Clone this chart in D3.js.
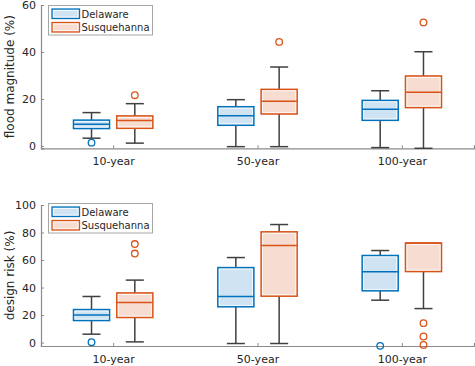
<!DOCTYPE html>
<html><head><meta charset="utf-8">
<script src="https://cdn.jsdelivr.net/npm/d3@7"></script>
<style>body{margin:0;background:#fff}svg{display:block}text{font-family:"DejaVu Sans",Verdana,sans-serif;fill:#262626}</style>
</head><body>
<script>
// ---- data ----
const categories = ["10-year", "50-year", "100-year"];
const seriesNames = ["Delaware", "Susquehanna"];
// box stats: [lower whisker, q1, median, q3, upper whisker]
const floodDelaware = [[3.3, 7.4, 9.2, 11.0, 14.2], [-0.3, 8.8, 12.9, 16.7, 19.7], [-0.7, 10.9, 15.6, 19.4, 23.5]];
const floodSusquehanna = [[1.2, 7.5, 10.8, 12.8, 18.0], [-0.3, 13.6, 19.0, 24.1, 33.6], [-1.0, 16.3, 22.9, 29.8, 40.1]];
const floodDelawareOut = [[1.4], [], []];
const floodSusquehannaOut = [[21.6], [44.3], [52.6]];
const riskDelaware = [[6.1, 16.0, 20.1, 24.0, 33.5], [-0.7, 26.0, 33.5, 54.5, 61.8], [30.8, 37.6, 51.4, 63.3, 66.9]];
const riskSusquehanna = [[0.5, 18.2, 29.1, 36.1, 45.4], [-0.7, 33.7, 70.5, 80.5, 85.8], [24.7, 51.6, 72.3, 72.3, 72.3]];
const riskDelawareOut = [[0.3], [], [-2.4]];
const riskSusquehannaOut = [[64.7, 71.6], [], [14.1, 4.4, -1.7]];
const floodTicks = [0, 20, 40, 60];
const riskTicks = [0, 20, 40, 60, 80, 100];

// ---- style ----
const W = 475, H = 366;
const strokeCols = ["#0072BD", "#D95319"];
const fillCols = ["#cfe3f2", "#f7dcd1"];
const whiskerCol = "#404040";
const axisCol = "#8a8a8a";

const svg = d3.select("body").append("svg").attr("width", W).attr("height", H);

const x = d3.scaleLinear().domain([0.5, 3.5]).range([41, 474]);
const offset = 0.15, boxW = 0.25;

function panel(cfg) {
  const y = d3.scaleLinear().domain(cfg.domain).range([cfg.bottom, cfg.top]);
  const g = svg.append("g");
  // axes
  const yAxis = d3.axisLeft(y).tickValues(cfg.ticks).tickSize(-3).tickPadding(5).tickFormat(d3.format("d"));
  const ya = g.append("g").attr("transform", `translate(${x.range()[0]},0)`).call(yAxis);
  const xAxis = d3.axisBottom(x).tickValues([1, 2, 3]).tickSize(-3).tickPadding(9).tickFormat((d, i) => categories[i]);
  const xa = g.append("g").attr("transform", `translate(0,${cfg.bottom})`).call(xAxis);
  [ya, xa].forEach(a => {
    a.select(".domain").attr("stroke", axisCol).attr("stroke-width", 1.2);
    a.selectAll(".tick line").attr("stroke", axisCol);
    a.selectAll(".tick text").attr("font-size", 11).attr("fill", "#262626").style("font-family", '"DejaVu Sans",Verdana,sans-serif');
  });
  g.append("text").attr("transform", `translate(14,${(cfg.top + cfg.bottom) / 2}) rotate(-90)`)
    .attr("text-anchor", "middle").attr("font-size", 12).text(cfg.label);

  const series = [cfg.a, cfg.b], outs = [cfg.aOut, cfg.bOut];
  series.forEach((stats, s) => {
    const off = s === 0 ? -offset : offset;
    stats.forEach((st, i) => {
      const cx = x(i + 1 + off);
      const bw = x(boxW) - x(0);
      const [lo, q1, med, q3, hi] = st;
      const gg = g.append("g");
      // whiskers
      gg.append("line").attr("x1", cx).attr("x2", cx).attr("y1", y(q3)).attr("y2", y(hi)).attr("stroke", whiskerCol).attr("stroke-width", 1.5);
      gg.append("line").attr("x1", cx).attr("x2", cx).attr("y1", y(q1)).attr("y2", y(lo)).attr("stroke", whiskerCol).attr("stroke-width", 1.5);
      [lo, hi].forEach(v => {
        if (v === q3 || v === q1) return;
        gg.append("line").attr("x1", cx - bw / 4).attr("x2", cx + bw / 4).attr("y1", y(v)).attr("y2", y(v)).attr("stroke", whiskerCol).attr("stroke-width", 1.5);
      });
      // box
      gg.append("rect").attr("x", cx - bw / 2).attr("y", y(q3)).attr("width", bw).attr("height", y(q1) - y(q3))
        .attr("fill", fillCols[s]).attr("stroke", strokeCols[s]).attr("stroke-width", 1.5);
      gg.append("rect").attr("x", cx - bw / 2 + 1.5).attr("y", y(q3) + 1.5).attr("width", bw - 3).attr("height", Math.max(0, y(q1) - y(q3) - 3))
        .attr("fill", "none").attr("stroke", "#fff").attr("stroke-width", 0.8).attr("opacity", 0.9);
      // median
      gg.append("line").attr("x1", cx - bw / 2).attr("x2", cx + bw / 2).attr("y1", y(med)).attr("y2", y(med))
        .attr("stroke", strokeCols[s]).attr("stroke-width", 1.5);
      // outliers
      outs[s][i].forEach(v => {
        gg.append("circle").attr("cx", cx).attr("cy", y(v)).attr("r", 3.3)
          .attr("fill", "none").attr("stroke", strokeCols[s]).attr("stroke-width", 1.3);
      });
    });
  });

  // legend
  const lg = g.append("g").attr("transform", `translate(48.5,${cfg.legendY})`);
  lg.append("rect").attr("width", 104).attr("height", 29.5).attr("fill", "#fff").attr("stroke", "#a6a6a6").attr("stroke-width", 1);
  seriesNames.forEach((n, s) => {
    const yy = 3.5 + s * 13.5;
    lg.append("rect").attr("x", 3.5).attr("y", yy).attr("width", 27.5).attr("height", 9.5)
      .attr("fill", fillCols[s]).attr("stroke", strokeCols[s]).attr("stroke-width", 1.3);
    lg.append("rect").attr("x", 5).attr("y", yy + 1.5).attr("width", 24.5).attr("height", 6.5)
      .attr("fill", "none").attr("stroke", "#fff").attr("stroke-width", 0.7);
    lg.append("text").attr("x", 33).attr("y", yy + 8.5).attr("font-size", 10).text(n);
  });
}

panel({ domain: [-1, 60], top: 5, bottom: 148.3, ticks: floodTicks, label: "flood magnitude (%)",
  a: floodDelaware, b: floodSusquehanna, aOut: floodDelawareOut, bOut: floodSusquehannaOut, legendY: 5.5 });
panel({ domain: [-2.5, 100], top: 205, bottom: 346, ticks: riskTicks, label: "design risk (%)",
  a: riskDelaware, b: riskSusquehanna, aOut: riskDelawareOut, bOut: riskSusquehannaOut, legendY: 203.5 });
</script>
</body></html>
